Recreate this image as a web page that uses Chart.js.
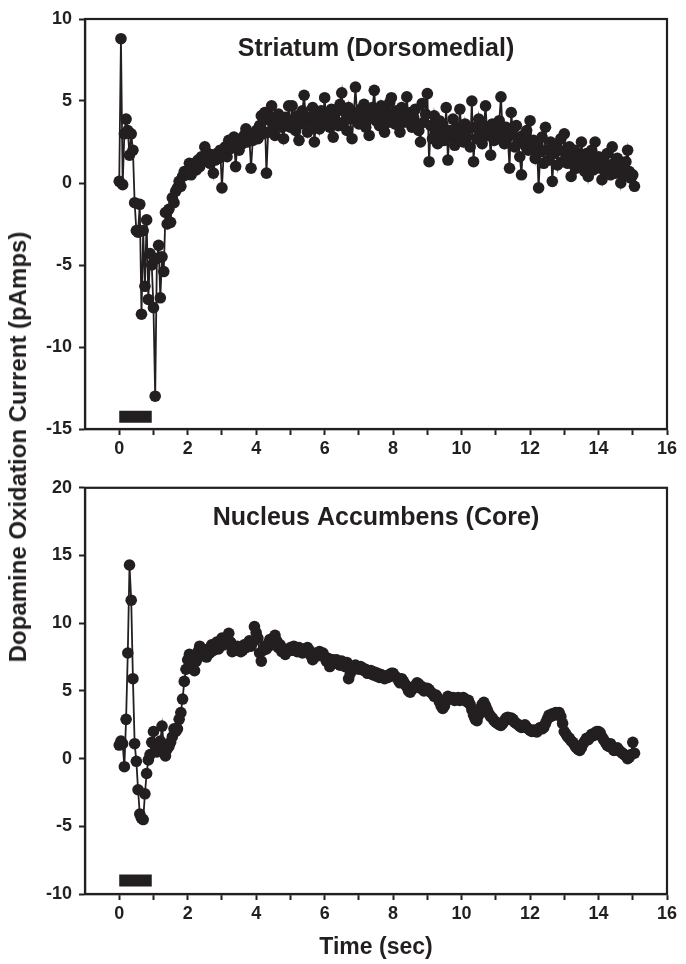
<!DOCTYPE html>
<html>
<head>
<meta charset="utf-8">
<script src="https://cdn.jsdelivr.net/npm/chart.js@4.4.1/dist/chart.umd.min.js"></script>
<style>
  html, body { margin: 0; padding: 0; background: #ffffff; }
  #wrap { position: relative; width: 686px; height: 964px; overflow: hidden; background: #fff; }
  #c1 { position: absolute; left: 0; top: 0; }
  #c2 { position: absolute; left: 0; top: 470px; }
  #ytitle {
    position: absolute; left: 18px; top: 447px;
    transform: translate(-50%, -50%) rotate(-90deg);
    white-space: nowrap;
    font-family: "Liberation Sans", Arial, sans-serif;
    font-weight: bold; font-size: 24px; color: #231f20;
  }
</style>
</head>
<body>
<div id="wrap">
  <canvas id="c1" width="686" height="470"></canvas>
  <canvas id="c2" width="686" height="494"></canvas>
  <div id="ytitle">Dopamine Oxidation Current (pAmps)</div>
</div>
<script>
// ---------- DATA ----------
const sampleInterval = 0.05; // seconds between samples

const panelTitles = ["Striatum (Dorsomedial)", "Nucleus Accumbens (Core)"];
const xAxisTitle = "Time (sec)";

// Striatum (Dorsomedial), pAmps, one value per 0.05 s from t = 0
const striatum = [
  0.1, 8.8, -0.1, 3.0, 3.9, 3.2, 1.7, 3.0, 2.0, -1.2, -2.9, -3.0, -1.3, -8.0, -2.9, -6.3, -2.25, -7.1, -4.3, -5.0,
  -7.6, -13.0, -4.6, -3.8, -7.0, -4.5, -5.4, -1.8, -2.5, -1.6, -2.4, -0.9, -1.2, -0.5, -0.3, 0.1, -0.2, 0.4, 0.7, 0.5,
  0.7, 1.2, 0.5, 0.9, 1.2, 0.8, 1.4, 1.0, 1.6, 1.3, 2.2, 1.5, 1.8, 1.2, 1.7, 0.6, 1.4, 1.8, 1.5, 2.0,
  -0.3, 1.8, 2.2, 1.6, 2.6, 2.1, 2.4, 2.8, 1.0, 2.3, 2.0, 2.7, 2.4, 2.9, 3.3, 2.5, 2.8, 0.9, 2.6, 3.0,
  3.2, 2.7, 3.5, 4.1, 3.0, 4.3, 0.6, 3.1, 3.8, 4.7, 3.3, 2.9, 3.6, 4.2, 3.9, 3.4, 2.7, 4.0, 3.6, 4.7,
  3.4, 4.7, 3.8, 3.2, 4.1, 2.6, 3.6, 4.4, 5.35, 3.9, 3.1, 4.0, 3.5, 4.6, 2.5, 3.7, 4.2, 3.3, 4.4, 3.8,
  5.2, 3.6, 4.2, 3.4, 4.5, 2.8, 3.9, 4.4, 3.5, 4.8, 5.5, 3.7, 4.3, 3.2, 4.6, 3.9, 2.7, 4.1, 5.85, 4.0,
  3.6, 4.5, 3.9, 4.8, 3.4, 4.2, 2.9, 4.0, 4.6, 5.65, 3.8, 4.3, 3.5, 4.7, 4.0, 3.1, 4.4, 3.7, 4.9, 5.2,
  4.1, 3.6, 4.4, 3.9, 3.1, 4.6, 3.7, 4.2, 5.25, 3.8, 4.3, 3.4, 4.0, 4.5, 3.6, 3.2, 2.5, 4.85, 3.7, 4.2,
  5.45, 1.3, 3.5, 2.7, 4.1, 3.3, 2.4, 3.8, 3.0, 3.6, 2.6, 4.6, 1.4, 3.2, 2.8, 3.9, 2.3, 3.4, 2.9, 4.5,
  3.1, 2.5, 3.6, 2.8, 3.3, 2.2, 5.0, 1.3, 3.4, 2.7, 3.9, 3.0, 2.4, 3.5, 4.7, 2.9, 3.2, 1.7, 3.6, 2.6,
  3.3, 2.7, 3.8, 5.25, 3.0, 2.4, 3.4, 2.8, 0.9, 4.3, 3.1, 2.2, 3.5, 2.6, 1.6, 0.5, 2.9, 2.3, 3.2, 2.0,
  3.8, 2.1, 2.6, 1.5, 2.3, -0.3, 1.9, 2.8, 1.2, 3.4, 2.0, 1.4, 2.5, 0.1, 1.8, 2.3, 1.1, 2.0, 2.7, 1.3,
  3.0, 1.7, 1.2, 2.2, 0.4, 1.5, 2.0, 0.9, 1.6, 1.1, 2.5, 1.4, 0.7, 1.8, 0.4, 1.2, 2.0, 0.8, 2.5, 1.3,
  1.6, 0.9, 0.2, 1.4, 0.7, 1.8, 1.0, 0.5, 2.2, 1.2, 0.6, 1.5, 0.9, 0.0, 1.1, 0.4, 1.3, 2.0, 0.7, 0.3,
  0.5, -0.2
];

// Nucleus Accumbens (Core), pAmps, one value per 0.05 s from t = 0
const accumbens = [
  1.0, 1.3, 1.1, -0.6, 2.9, 7.8, 14.3, 11.7, 5.9, 1.1, -0.2, -2.3, -4.1, -4.4, -4.5, -2.6, -1.1, -0.1, 0.3, 1.2,
  2.0, 1.0, 0.5, 0.9, 1.3, 2.4, 1.0, 0.2, 0.7, 0.9, 1.2, 1.6, 2.2, 2.0, 2.2, 2.9, 3.4, 4.4, 5.7, 6.6,
  7.3, 7.7, 7.1, 7.5, 6.5, 7.2, 7.9, 8.3, 7.6, 8.0, 7.9, 7.5, 8.1, 7.8, 8.4, 8.0, 8.2, 8.6, 8.1, 8.5,
  8.9, 8.4, 8.7, 9.0, 9.25, 8.6, 7.9, 8.2, 8.0, 8.3, 8.1, 7.9, 8.0, 8.4, 8.2, 8.5, 8.7, 8.3, 8.6, 9.75,
  9.3, 8.9, 7.8, 7.2, 8.0, 8.3, 8.1, 8.5, 8.8, 8.4, 8.9, 9.1, 8.7, 8.2, 8.4, 7.9, 8.1, 7.7, 7.9, 8.0,
  8.2, 8.0, 8.3, 8.1, 7.9, 8.2, 8.0, 7.8, 8.1, 7.9, 8.2, 8.0, 7.6, 7.3, 7.5, 7.8, 7.6, 7.9, 7.7, 7.8,
  7.5, 7.2, 7.4, 6.8, 7.0, 7.3, 7.1, 7.3, 7.0, 6.9, 7.2, 7.0, 6.8, 7.1, 5.9, 6.3, 6.8, 6.6, 6.9, 6.7,
  6.6, 6.8, 6.7, 6.5, 6.6, 6.3, 6.4, 6.5, 6.2, 6.4, 6.1, 6.3, 6.0, 6.2, 6.1, 5.9, 6.1, 6.0, 6.2, 6.3,
  6.3, 6.1, 6.0, 5.8, 5.6, 5.9, 5.7, 5.5, 5.3, 5.0, 4.9, 5.1, 5.3, 5.4, 5.6, 5.5, 5.2, 5.3, 5.0, 5.1,
  5.2, 5.1, 4.9, 4.8, 4.6, 4.7, 4.5, 4.2, 3.9, 3.7, 3.9, 4.3, 4.6, 4.5, 4.4, 4.5, 4.3, 4.4, 4.5, 4.3,
  4.4, 4.5, 4.4, 4.2, 4.3, 4.0, 3.6, 3.2, 2.9, 2.8, 3.2, 3.7, 4.0, 4.15, 3.9, 3.6, 3.3, 3.1, 3.0, 2.8,
  2.7, 2.6, 2.5, 2.45, 2.6, 2.8, 3.0, 3.05, 2.9, 3.0, 2.9, 2.7, 2.6, 2.5, 2.4, 2.3, 2.4, 2.5, 2.3, 2.2,
  2.1, 2.0, 2.1, 2.0, 1.97, 2.2, 2.3, 2.2, 2.3, 2.6, 2.9, 3.2, 3.1, 3.3, 3.2, 3.4, 3.3, 3.4, 3.1, 2.6,
  2.0, 1.8, 1.6, 1.5, 1.3, 1.2, 1.0, 0.8, 0.7, 0.6, 0.8, 1.1, 1.3, 1.5, 1.4, 1.6, 1.8, 1.7, 1.9, 2.0,
  2.0, 1.9, 1.6, 1.4, 1.2, 1.0, 0.9, 1.1, 0.8, 0.6, 0.7, 0.8, 0.6, 0.5, 0.4, 0.3, 0.2, 0.0, 0.1, 0.3,
  1.2, 0.4
];

// Stimulation bar (seconds) and its vertical level in each panel (pAmps)
const stimWindow = [0, 0.95];
const stimLevelStriatum = -14.25;
const stimLevelAccumbens = -9.0;

// Axis ranges and tick steps
const xRange = [-1, 16];
const xStep = 1;
const yRangeStriatum = [-15, 10];
const yRangeAccumbens = [-10, 20];
const yStep = 5;

// ---------- DRAWING ----------
const INK = '#231f20';
const FONT = '"Liberation Sans", Arial, sans-serif';
const times = striatum.map((_, i) => Math.round(i * sampleInterval * 100) / 100);

const framePlugin = {
  id: 'frame',
  afterDatasetsDraw(chart, args, opts) {
    const { ctx, chartArea: a } = chart;
    ctx.save();
    ctx.strokeStyle = INK;
    ctx.lineWidth = 2.2;
    ctx.strokeRect(a.left, a.top, a.right - a.left, a.bottom - a.top);
    ctx.fillStyle = INK;
    ctx.font = 'bold 25px ' + FONT;
    ctx.textAlign = 'center';
    ctx.textBaseline = 'middle';
    ctx.fillText(opts.text, (a.left + a.right) / 2, a.top + opts.offset);
    ctx.restore();
  }
};

function makeChart(canvasId, values, yRange, stimLevel, title, opts) {
  const pts = times.map((t, i) => ({ x: t, y: values[i] }));
  const bar = stimWindow.map(t => ({ x: t, y: stimLevel }));
  return new Chart(document.getElementById(canvasId), {
    type: 'line',
    data: {
      datasets: [
        {
          data: pts,
          borderColor: INK,
          borderWidth: 1.8,
          pointRadius: 5.8,
          pointBackgroundColor: INK,
          pointBorderWidth: 0,
          pointHoverRadius: 5.8,
          tension: 0
        },
        {
          data: bar,
          borderColor: INK,
          borderWidth: 12,
          borderCapStyle: 'butt',
          pointRadius: 0,
          pointHoverRadius: 0
        }
      ]
    },
    options: {
      responsive: false,
      animation: false,
      events: [],
      layout: { padding: { left: 0, right: 19, top: opts.padTop, bottom: 0 } },
      plugins: {
        legend: { display: false },
        tooltip: { enabled: false },
        frame: { text: title, offset: 30 }
      },
      scales: {
        x: {
          type: 'linear',
          min: xRange[0], max: xRange[1],
          afterBuildTicks(s) { s.ticks = s.ticks.filter(t => t.value >= 0); },
          afterFit(s) { s.height = opts.xHeight; },
          ticks: {
            stepSize: xStep,
            autoSkip: false,
            maxRotation: 0,
            padding: 3,
            color: INK,
            font: { family: FONT, weight: 'bold', size: 18 },
            callback: v => (v >= 0 && v % 2 === 0) ? String(v) : ''
          },
          grid: { display: true, drawOnChartArea: false, drawTicks: true, tickLength: 6, tickWidth: 2, color: INK },
          border: { display: true, width: 2.2, color: INK },
          title: opts.showXTitle ? {
            display: true, text: xAxisTitle, color: INK,
            font: { family: FONT, weight: 'bold', size: 23 },
            padding: { top: 0, bottom: 3 }
          } : { display: false }
        },
        y: {
          type: 'linear',
          min: yRange[0], max: yRange[1],
          afterFit(s) { s.width = 85; },
          ticks: {
            stepSize: yStep,
            padding: 7,
            color: INK,
            font: { family: FONT, weight: 'bold', size: 18 }
          },
          grid: { display: true, drawOnChartArea: false, drawTicks: true, tickLength: 6, tickWidth: 2, color: INK },
          border: { display: true, width: 2.2, color: INK }
        }
      }
    },
    plugins: [framePlugin]
  });
}

makeChart('c1', striatum, yRangeStriatum, stimLevelStriatum, panelTitles[0],
  { padTop: 19, xHeight: 41, showXTitle: false });
makeChart('c2', accumbens, yRangeAccumbens, stimLevelAccumbens, panelTitles[1],
  { padTop: 12, xHeight: 70, showXTitle: true });
</script>
</body>
</html>
